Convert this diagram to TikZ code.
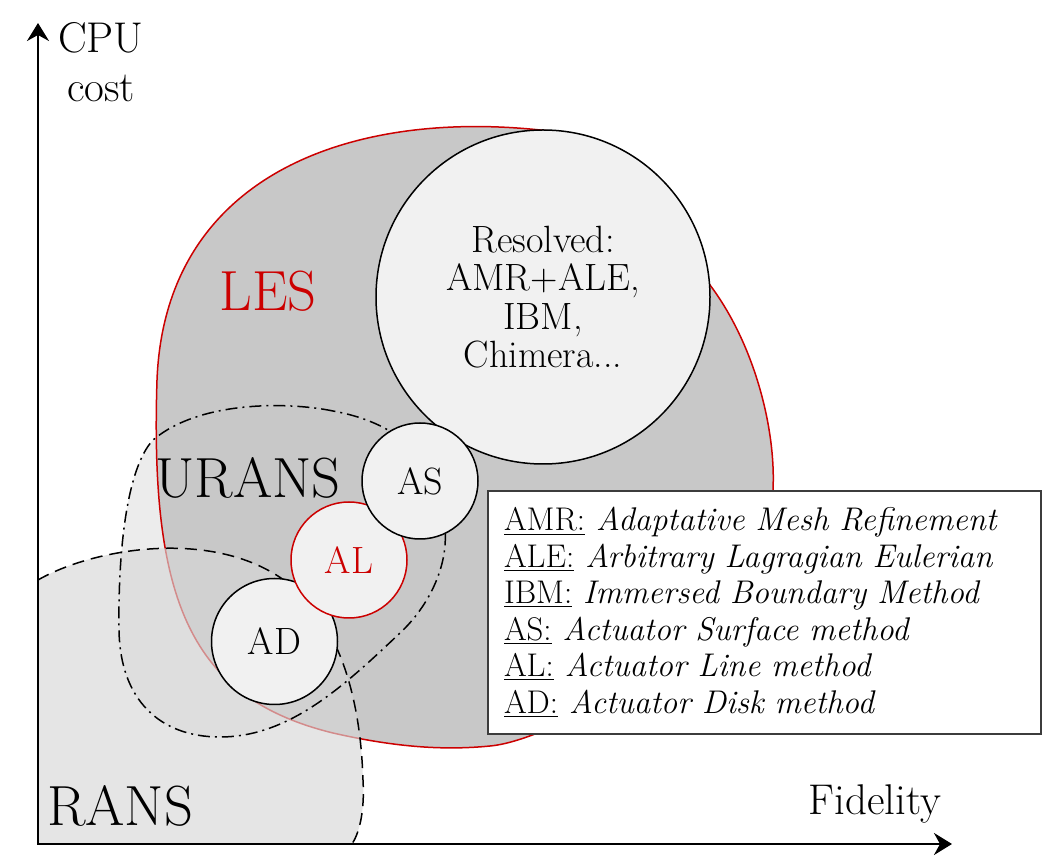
\documentclass[tikz,border=0pt]{standalone}
\usepackage{fontspec}
\usetikzlibrary{arrows.meta}
\definecolor{lesred}{RGB}{204,0,0}
\definecolor{lesgray}{RGB}{200,200,200}
\definecolor{circgray}{RGB}{241,241,241}
\definecolor{ransgray}{RGB}{215,215,215}
\definecolor{uransgray}{RGB}{236,236,236}
\definecolor{boxgray}{RGB}{60,60,60}
\begin{document}
\begin{tikzpicture}[x=0.5pt,y=-0.5pt,
  bubble/.style={circle, draw=black, line width=0.75pt, fill=circgray, inner sep=0pt,
    align=center, font=\fontsize{19}{19.25}\selectfont},
  biglabel/.style={font=\fontsize{28.3}{32}\selectfont, inner sep=0pt},
  axislabel/.style={font=\fontsize{21.5}{24.5}\selectfont, align=center, inner sep=0pt},
  axisline/.style={line width=1.2pt, {Stealth[length=9pt,width=11pt,inset=3pt]}-{Stealth[length=9pt,width=11pt,inset=3pt]}},
  ransline/.style={line width=0.75pt, dash pattern=on 6pt off 3.5pt},
  uransline/.style={line width=0.75pt, dash pattern=on 6pt off 2.5pt on 1pt off 2.5pt},
  lesline/.style={line width=0.75pt, draw=lesred, fill=lesgray}]

\useasboundingbox (0,0) rectangle (1061,865);

% URANS fill (under LES)
\fill[uransgray] (333,411) .. controls (290,402) and (200,400) .. (153,440)
  .. controls (125,470) and (118,560) .. (119,630)
  .. controls (120,700) and (160,737) .. (220,737)
  .. controls (290,737) and (345,685) .. (400,633)
  .. controls (430,605) and (448,565) .. (445,530)
  .. controls (442,470) and (410,425) .. (333,411) -- cycle;

% LES region
\path[lesline] (540,130) .. controls (350,110) and (165,175) .. (157,380)
  .. controls (150,600) and (190,698) .. (333,733)
  .. controls (390,746) and (440,751) .. (490,746)
  .. controls (560,740) and (770,620) .. (773,490)
  .. controls (776,430) and (755,345) .. (710,285)
  .. controls (680,238) and (620,135) .. (540,130) -- cycle;

% RANS region
\draw[ransline, fill=ransgray, fill opacity=0.65] (38,580)
  .. controls (90,550) and (200,530) .. (273,573)
  .. controls (330,606) and (360,680) .. (363,780)
  .. controls (365,815) and (358,835) .. (352,844)
  -- (38,844) -- cycle;

% URANS outline
\draw[uransline] (333,411) .. controls (290,402) and (200,400) .. (153,440)
  .. controls (125,470) and (118,560) .. (119,630)
  .. controls (120,700) and (160,737) .. (220,737)
  .. controls (290,737) and (345,685) .. (400,633)
  .. controls (430,605) and (448,565) .. (445,530)
  .. controls (442,470) and (410,425) .. (333,411);

% circles
\node[bubble, minimum size=167pt] (res) at (543,297) {Resolved:\\AMR+ALE,\\IBM,\\Chimera...};
\node[bubble, minimum size=63pt] (ad) at (274.5,641.5) {AD};
\node[bubble, draw=lesred, text=lesred, minimum size=58pt] (al) at (349,560) {AL};
\node[bubble, minimum size=58pt] (as) at (420,481) {AS};

% region labels
\node[biglabel, text=lesred] (les) at (268,291) {LES};
\node[biglabel] (urans) at (248,478) {URANS};
\node[biglabel] (rans) at (120,806) {RANS};

% legend
\node[draw=boxgray, line width=1pt, fill=white, anchor=north west,
  minimum width=276.5pt, minimum height=121.5pt, text width=260.5pt,
  inner xsep=8pt, inner ysep=0pt, align=left,
  font=\fontsize{16.4}{18.25}\selectfont] (legend) at (487,490) {%
  \underline{AMR:} \textit{Adaptative Mesh Refinement}\\
  \underline{ALE:} \textit{Arbitrary Lagragian Eulerian}\\
  \underline{IBM:} \textit{Immersed Boundary Method}\\
  \underline{AS:} \textit{Actuator Surface method}\\
  \underline{AL:} \textit{Actuator Line method}\\
  \underline{AD:} \textit{Actuator Disk method}};

% axes
\coordinate (O) at (38,844);
\coordinate (ytip) at (38,23);
\coordinate (xtip) at (952,844);
\draw[axisline] (ytip) -- (O) -- (xtip);
\node[axislabel] (cpu) at (101,62.5) {CPU\\cost};
\node[axislabel, anchor=base] (fid) at (875,814) {Fidelity};
\end{tikzpicture}
\end{document}
